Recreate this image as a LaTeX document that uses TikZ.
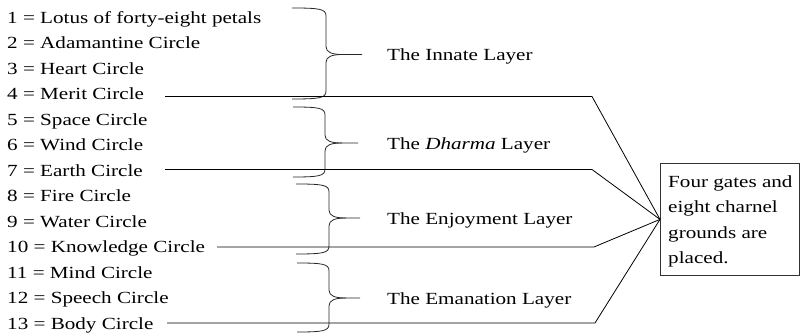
\documentclass[tikz,border=0pt]{standalone}
\usepackage{fontspec}
\setmainfont{Liberation Serif}

% text set slightly wider than normal
\newcommand\wide[1]{\scalebox{1.242}[1]{#1}}

% right curly brace: left x, spine x, tip x, top y, middle y, bottom y
\newcommand\curlybrace[6]{%
  \draw[curly] (#1,#4) .. controls ({#2-6},{#4}) and (#2,{#4+1}) .. (#2,{#4+8})
    -- (#2,{#5-8}) .. controls (#2,{#5-2}) and ({#2+6},#5) .. ({#2+17},#5) -- (#3,#5);
  \draw[curly] ({#2+17},#5) .. controls ({#2+6},#5) and (#2,{#5+2}) .. (#2,{#5+8})
    -- (#2,{#6-8}) .. controls (#2,{#6-1}) and ({#2-6},#6) .. (#1,#6);
}

\begin{document}
\begin{tikzpicture}[x=1pt,y=-1pt,
  txt/.style={anchor=base west, inner sep=0pt, font=\fontsize{17}{25.5}\selectfont},
  link/.style={draw=black, line width=0.8pt},
  curly/.style={draw=black!85, line width=0.8pt},
  panel/.style={draw=black!80, line width=0.8pt, minimum width=139pt, minimum height=112pt, inner sep=0pt}]
\useasboundingbox (0,0) rectangle (801,336);

% list of the thirteen circles
\foreach \n/\t in {1/Lotus of forty-eight petals, 2/Adamantine Circle, 3/Heart Circle,
    4/Merit Circle, 5/Space Circle, 6/Wind Circle, 7/Earth Circle, 8/Fire Circle,
    9/Water Circle, 10/Knowledge Circle, 11/Mind Circle, 12/Speech Circle, 13/Body Circle}
  \node[txt] (m\n) at (7,{23.3+(\n-1)*25.5}) {\wide{\n{} = \t}};

% braces grouping the circles into layers
\curlybrace{292}{326}{362}{8}{54.5}{99}
\curlybrace{293}{325}{358}{107}{143}{177}
\curlybrace{296}{329}{360}{184}{218}{254}
\curlybrace{297}{329}{360}{263}{298}{332}

% layer names
\node[txt] (innate) at (387,61) {\wide{The Innate Layer}};
\node[txt] (dharma) at (387,149.3) {\wide{The \emph{Dharma} Layer}};
\node[txt] (enjoy) at (387,225) {\wide{The Enjoyment Layer}};
\node[txt] (eman) at (387,305) {\wide{The Emanation Layer}};

% note box
\node[panel, anchor=north west] (box) at (660,163) {};
\node[txt, align=left] (note) at (668,264)
  {\wide{Four gates and}\\\wide{eight charnel}\\\wide{grounds are}\\\wide{placed.}};

% leaders from the last circle of each layer to the box
\coordinate (s4) at (165,96.5);  \coordinate (k4) at (592,96.5);
\coordinate (s7) at (165,169.5); \coordinate (k7) at (592,169.5);
\coordinate (s10) at (217,247);  \coordinate (k10) at (594,247);
\coordinate (s13) at (167,323);  \coordinate (k13) at (595,323);
\foreach \i in {4,7,10,13}
  \draw[link] (s\i) -- (k\i) -- (box.west);
\end{tikzpicture}
\end{document}
